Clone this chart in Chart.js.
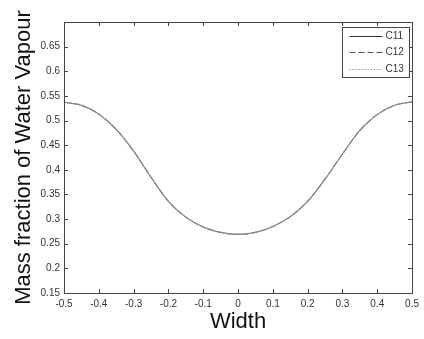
<!DOCTYPE html>
<html>
<head>
<meta charset="utf-8">
<script src="https://cdn.jsdelivr.net/npm/chart.js@4"></script>
<style>
  html, body { margin: 0; padding: 0; background: #fff; }
  #wrap { width: 424px; height: 339px; }
</style>
</head>
<body>
<div id="wrap"><canvas id="chartVapour"></canvas></div>
<script>
// Width positions across the channel
const widths = [-0.5, -0.45, -0.4, -0.35, -0.3, -0.25, -0.2, -0.15, -0.1, -0.05, 0,
                0.05, 0.1, 0.15, 0.2, 0.25, 0.3, 0.35, 0.4, 0.45, 0.5];

// Mass fraction of water vapour (the three cases lie on top of each other)
const massC11 = [0.537, 0.531, 0.513, 0.482, 0.438, 0.385, 0.336, 0.304, 0.284, 0.273, 0.269,
                 0.273, 0.285, 0.305, 0.336, 0.381, 0.432, 0.480, 0.512, 0.531, 0.538];
const massC12 = [0.537, 0.531, 0.513, 0.482, 0.438, 0.385, 0.336, 0.304, 0.284, 0.273, 0.269,
                 0.273, 0.285, 0.305, 0.336, 0.381, 0.432, 0.480, 0.512, 0.531, 0.538];
const massC13 = [0.537, 0.531, 0.513, 0.482, 0.438, 0.385, 0.336, 0.304, 0.284, 0.273, 0.269,
                 0.273, 0.285, 0.305, 0.336, 0.381, 0.432, 0.480, 0.512, 0.531, 0.538];

const seriesLabels = ["C11", "C12", "C13"];
const xTicks = [-0.5, -0.4, -0.3, -0.2, -0.1, 0, 0.1, 0.2, 0.3, 0.4, 0.5];
const yTicks = [0.15, 0.2, 0.25, 0.3, 0.35, 0.4, 0.45, 0.5, 0.55, 0.6, 0.65, 0.7];

const AXIS_COLOR = "#444";
const FONT = "'Liberation Sans', Arial, sans-serif";

function fmt(v) { return String(Number(v.toFixed(2))); }

// Matlab-like frame with inward ticks on all four sides + legend box
const matlabFrame = {
  id: "matlabFrame",
  afterDatasetsDraw(chart) {
    const { ctx, chartArea: a, scales } = chart;
    const len = 4;
    ctx.save();
    ctx.strokeStyle = AXIS_COLOR;
    ctx.lineWidth = 1;
    ctx.setLineDash([]);
    ctx.strokeRect(Math.round(a.left) + 0.5, Math.round(a.top) + 0.5,
                   Math.round(a.right - a.left), Math.round(a.bottom - a.top));
    ctx.beginPath();
    xTicks.forEach(v => {
      const px = Math.round(scales.x.getPixelForValue(v)) + 0.5;
      ctx.moveTo(px, a.bottom); ctx.lineTo(px, a.bottom - len);
      ctx.moveTo(px, a.top); ctx.lineTo(px, a.top + len);
    });
    yTicks.forEach(v => {
      const py = Math.round(scales.y.getPixelForValue(v)) + 0.5;
      ctx.moveTo(a.left, py); ctx.lineTo(a.left + len, py);
      ctx.moveTo(a.right, py); ctx.lineTo(a.right - len, py);
    });
    ctx.stroke();

    // legend (top-right, inside the axes)
    const boxW = 67, boxH = 50;
    const bx = Math.round(a.right - 3 - boxW) + 0.5, by = Math.round(a.top + 5) + 0.5;
    ctx.fillStyle = "#fff";
    ctx.fillRect(bx, by, boxW, boxH);
    ctx.strokeStyle = AXIS_COLOR;
    ctx.strokeRect(bx, by, boxW, boxH);
    ctx.font = "10px " + FONT;
    ctx.textBaseline = "middle";
    ctx.textAlign = "left";
    chart.data.datasets.forEach((ds, i) => {
      const y = Math.round(by + 8 + i * 16.5) + 0.5;
      ctx.beginPath();
      ctx.strokeStyle = ds.legendColor;
      ctx.setLineDash(ds.borderDash || []);
      ctx.moveTo(bx + 7, y); ctx.lineTo(bx + 40, y);
      ctx.stroke();
      ctx.setLineDash([]);
      ctx.fillStyle = "#333";
      ctx.fillText(ds.label, bx + 43, y);
    });
    ctx.restore();
  }
};

const mk = (arr) => widths.map((w, i) => ({ x: w, y: arr[i] }));

new Chart(document.getElementById("chartVapour"), {
  type: "line",
  data: {
    datasets: [
      { label: seriesLabels[0], data: mk(massC11), borderColor: "#858585", legendColor: "#333",
        borderWidth: 1.1, pointRadius: 0, cubicInterpolationMode: "monotone" },
      { label: seriesLabels[1], data: mk(massC12), borderColor: "#858585", legendColor: "#555",
        borderDash: [6, 3], borderWidth: 1.1, pointRadius: 0, cubicInterpolationMode: "monotone" },
      { label: seriesLabels[2], data: mk(massC13), borderColor: "#858585", legendColor: "#999",
        borderDash: [1.5, 1.5], borderWidth: 1.1, pointRadius: 0, cubicInterpolationMode: "monotone" }
    ]
  },
  options: {
    responsive: true,
    maintainAspectRatio: false,
    animation: false,
    layout: { padding: { top: 22, right: 7, left: 0, bottom: 0 } },
    plugins: { legend: { display: false }, tooltip: { enabled: false } },
    scales: {
      x: {
        type: "linear",
        min: -0.5, max: 0.5,
        afterBuildTicks: s => { s.ticks = xTicks.map(v => ({ value: v })); },
        afterFit: s => { s.height = 46; },
        grid: { display: false, drawTicks: false },
        border: { display: false },
        ticks: { padding: 5, color: "#333", font: { family: FONT, size: 10 },
                 maxRotation: 0, autoSkip: false, callback: v => fmt(v) },
        title: { display: true, text: "Width", color: "#111",
                 font: { family: FONT, size: 22 }, padding: { top: 0, bottom: 4 } }
      },
      y: {
        min: 0.15, max: 0.7,
        afterBuildTicks: s => { s.ticks = yTicks.map(v => ({ value: v })); },
        afterFit: s => { s.width = 64; },
        grid: { display: false, drawTicks: false },
        border: { display: false },
        ticks: { padding: 4, color: "#333", font: { family: FONT, size: 10 }, autoSkip: false,
                 callback: v => (Math.abs(v - 0.7) < 1e-6 ? "" : fmt(v)) },
        title: { display: true, text: "Mass fraction of Water Vapour", color: "#111",
                 font: { family: FONT, size: 22 }, padding: { top: 11, bottom: 0 } }
      }
    }
  },
  plugins: [matlabFrame]
});
</script>
</body>
</html>
